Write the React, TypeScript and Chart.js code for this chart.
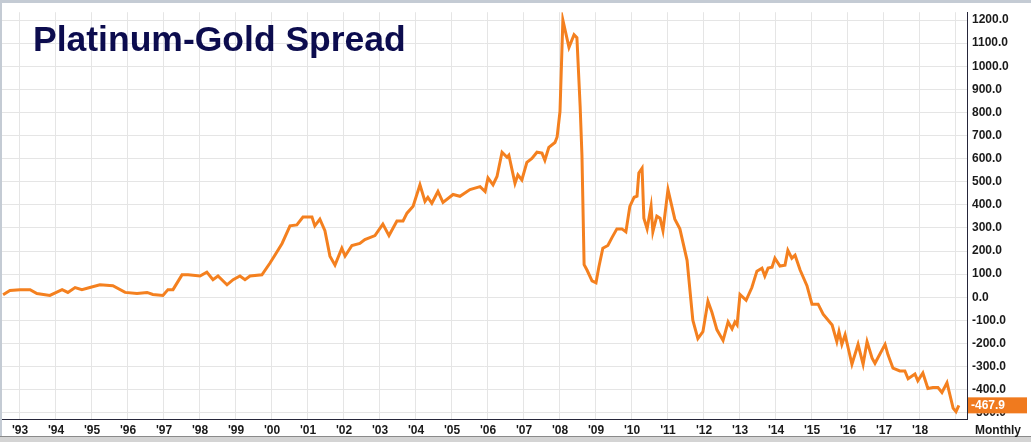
import React, { useEffect, useRef } from "react";
import { Chart, registerables } from "chart.js";

Chart.register(...registerables);

// ---- data (decimal year, spread in USD/oz) ----
const dates = [
  1992.53, 1992.72, 1993.0, 1993.28, 1993.47, 1993.83, 1994.17, 1994.33, 1994.53, 1994.72,
  1994.94, 1995.22, 1995.58, 1995.92, 1996.25, 1996.53, 1996.69, 1996.97, 1997.11, 1997.25,
  1997.5, 1997.67, 1998.0, 1998.19, 1998.36, 1998.5, 1998.75, 1998.92, 1999.11, 1999.25,
  1999.39, 1999.72, 1999.94, 2000.08, 2000.28, 2000.5, 2000.69, 2000.86, 2001.11, 2001.19,
  2001.33, 2001.47, 2001.61, 2001.75, 2001.94, 2002.03, 2002.22, 2002.44, 2002.58, 2002.86,
  2003.08, 2003.25, 2003.47, 2003.64, 2003.75, 2003.92, 2004.11, 2004.25, 2004.33, 2004.44,
  2004.61, 2004.75, 2005.03, 2005.22, 2005.5, 2005.78, 2005.92, 2006.0, 2006.14, 2006.25,
  2006.39, 2006.53, 2006.58, 2006.75, 2006.83, 2006.94, 2007.08, 2007.22, 2007.36, 2007.5,
  2007.58, 2007.69, 2007.86, 2007.92, 2008.0, 2008.08, 2008.25, 2008.39, 2008.47, 2008.56,
  2008.61, 2008.67, 2008.75, 2008.89, 2009.0, 2009.08, 2009.19, 2009.33, 2009.44, 2009.58,
  2009.72, 2009.83, 2009.94, 2010.06, 2010.14, 2010.19, 2010.28, 2010.33, 2010.42, 2010.53,
  2010.58, 2010.69, 2010.78, 2010.86, 2011.0, 2011.19, 2011.33, 2011.53, 2011.69, 2011.83,
  2011.97, 2012.11, 2012.22, 2012.36, 2012.53, 2012.67, 2012.78, 2012.86, 2012.92, 2013.0,
  2013.17, 2013.33, 2013.47, 2013.61, 2013.69, 2013.78, 2013.89, 2013.97, 2014.11, 2014.25,
  2014.33, 2014.44, 2014.53, 2014.67, 2014.86, 2015.0, 2015.17, 2015.31, 2015.56, 2015.69,
  2015.75, 2015.83, 2015.92, 2016.11, 2016.28, 2016.42, 2016.53, 2016.67, 2016.75, 2017.03,
  2017.11, 2017.25, 2017.44, 2017.58, 2017.67, 2017.86, 2017.94, 2018.08, 2018.22, 2018.36,
  2018.5, 2018.61, 2018.75, 2018.92, 2019.0, 2019.08,
];

const spread = [
  11, 29, 33, 33, 16, 8, 33, 21, 42, 33,
  42, 54, 50, 21, 16, 21, 12, 8, 33, 33,
  97, 97, 92, 109, 76, 92, 54, 76, 92, 76,
  92, 97, 147, 182, 233, 309, 313, 347, 347, 309,
  338, 288, 178, 139, 212, 178, 224, 233, 250, 267,
  317, 267, 330, 330, 364, 394, 487, 415, 432, 407,
  458, 411, 445, 437, 466, 479, 458, 517, 487, 523,
  628, 606, 615, 493, 530, 508, 584, 601, 628, 624,
  593, 649, 670, 694, 804, 1200, 1082, 1137, 1124, 826,
  614, 141, 118, 71, 63, 131, 212, 224, 257, 296,
  296, 283, 393, 433, 438, 538, 559, 342, 296, 394,
  283, 351, 342, 288, 466, 338, 296, 160, -99, -179,
  -149, -17, -65, -141, -187, -107, -137, -107, -120, 12,
  -13, 42, 113, 126, 92, 126, 130, 169, 135, 139,
  203, 169, 182, 118, 50, -30, -30, -73, -120, -192,
  -149, -204, -162, -290, -204, -290, -192, -264, -286, -204,
  -248, -307, -319, -319, -353, -332, -362, -328, -395, -391,
  -391, -412, -370, -480, -495, -467.9,
];

const yearLabels = [
  "'93", "'94", "'95", "'96", "'97", "'98", "'99", "'00", "'01", "'02", "'03", "'04", "'05",
  "'06", "'07", "'08", "'09", "'10", "'11", "'12", "'13", "'14", "'15", "'16", "'17", "'18",
];
const firstLabelYear = 1993;

const titleText = "Platinum-Gold Spread";
const lastValueText = "-467.9";
const lastValue = -467.9;
const periodText = "Monthly";

const FONT = "'Liberation Sans', Arial, sans-serif";
const LINE_COLOR = "#f4801f";

const decorPlugin = {
  id: "decor",
  beforeDraw(chart: any) {
    const { ctx, width, height } = chart;
    ctx.save();
    ctx.fillStyle = "#ffffff";
    ctx.fillRect(0, 0, width, height);
    // frame
    ctx.fillStyle = "#c4cbd4";
    ctx.fillRect(0, 0, width, 3);
    ctx.fillRect(0, 0, 2, height);
    ctx.fillStyle = "#d4d4d4";
    ctx.fillRect(0, 437, width, height - 437);
    ctx.fillStyle = "#8a8a8a";
    ctx.fillRect(0, 436, width, 1);
    ctx.restore();
  },
  afterDraw(chart: any) {
    const { ctx, chartArea } = chart;
    const y = chart.scales.y;
    ctx.save();
    // title
    ctx.font = `bold 35.5px ${FONT}`;
    ctx.fillStyle = "#0c0c4e";
    ctx.textBaseline = "alphabetic";
    ctx.textAlign = "left";
    ctx.fillText(titleText, 33, 51);
    // last value tag
    const py = y.getPixelForValue(lastValue);
    ctx.fillStyle = "#f07a1e";
    ctx.fillRect(chartArea.right + 1, py - 8, 59, 16);
    ctx.fillStyle = "#ffffff";
    ctx.font = `bold 12px ${FONT}`;
    ctx.textBaseline = "middle";
    ctx.fillText(lastValueText, chartArea.right + 4, py + 0.5);
    // period label
    ctx.fillStyle = "#1a1a1a";
    ctx.fillText(periodText, chartArea.right + 8, 431);
    ctx.restore();
  },
};

export default function App() {
  const canvasRef = useRef<HTMLCanvasElement | null>(null);

  useEffect(() => {
    const canvas = canvasRef.current;
    if (!canvas) return;
    const points = dates.map((d, i) => ({ x: d, y: spread[i] }));
    const chart = new Chart(canvas, {
      type: "line",
      data: {
        datasets: [
          {
            data: points,
            borderColor: LINE_COLOR,
            borderWidth: 3,
            pointRadius: 0,
            tension: 0,
            fill: false,
          },
        ],
      },
      options: {
        animation: false,
        responsive: false,
        layout: { padding: { left: 2, top: 4, right: 0, bottom: 0 } },
        plugins: {
          legend: { display: false },
          tooltip: { enabled: false },
          title: { display: false },
        },
        scales: {
          x: {
            type: "linear",
            position: "bottom",
            min: 1992.5,
            max: 2019.306,
            afterFit(scale: any) {
              scale.height = 23;
            },
            grid: { color: "#e5e5e5", lineWidth: 1, drawTicks: false },
            border: { color: "#26263a", width: 1 },
            ticks: {
              stepSize: 1,
              includeBounds: false,
              autoSkip: false,
              maxRotation: 0,
              padding: 4,
              color: "#1a1a1a",
              font: { family: FONT, size: 12, weight: "bold" },
              callback: (v: any) => {
                const idx = Math.round(Number(v)) - firstLabelYear;
                return yearLabels[idx] ?? "";
              },
            },
          },
          y: {
            type: "linear",
            position: "right",
            min: -527,
            max: 1234,
            afterFit(scale: any) {
              scale.width = 64;
            },
            grid: { color: "#e5e5e5", lineWidth: 1, drawTicks: false },
            border: { color: "#26263a", width: 1 },
            ticks: {
              stepSize: 100,
              includeBounds: false,
              autoSkip: false,
              padding: 5,
              color: "#1a1a1a",
              font: { family: FONT, size: 12, weight: "bold" },
              callback: (v: any) => Number(v).toFixed(1),
            },
          },
        },
      },
      plugins: [decorPlugin],
    });
    return () => chart.destroy();
  }, []);

  return (
    <div style={{ position: "fixed", left: 0, top: 0, width: 1031, height: 442 }}>
      <canvas ref={canvasRef} width={1031} height={442} style={{ display: "block" }} />
    </div>
  );
}
